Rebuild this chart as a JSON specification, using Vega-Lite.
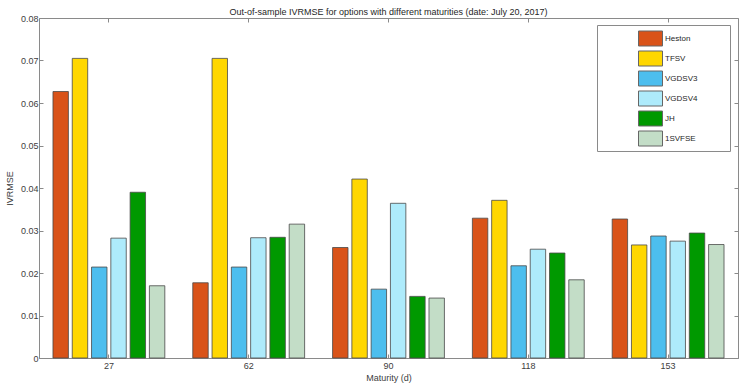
{
  "$schema": "https://vega.github.io/schema/vega-lite/v6.json",
  "width": 699,
  "height": 340,
  "autosize": "none",
  "padding": {"left": 39, "top": 18, "right": 1, "bottom": 25},
  "background": "white",
  "title": {"text": "Out-of-sample IVRMSE for options with different maturities (date: July 20, 2017)", "font": "Liberation Sans", "fontSize": 9, "fontWeight": "normal", "color": "#262626", "offset": -3},
  "config": {
    "view": {"stroke": "#8a8a8a", "strokeWidth": 1},
    "axis": {"labelFont": "Liberation Sans", "titleFont": "Liberation Sans", "labelFontSize": 9, "titleFontSize": 9, "titleFontWeight": "normal", "labelColor": "#404040", "titleColor": "#404040", "domainColor": "#8a8a8a", "tickColor": "#8a8a8a", "grid": false}
  },
  "data": {"values": [
    {"m": "27", "model": "Heston", "v": 0.0627},
    {"m": "27", "model": "TFSV", "v": 0.0705},
    {"m": "27", "model": "VGDSV3", "v": 0.0214},
    {"m": "27", "model": "VGDSV4", "v": 0.0282},
    {"m": "27", "model": "JH", "v": 0.0390},
    {"m": "27", "model": "1SVFSE", "v": 0.0170},
    {"m": "62", "model": "Heston", "v": 0.0177},
    {"m": "62", "model": "TFSV", "v": 0.0705},
    {"m": "62", "model": "VGDSV3", "v": 0.0214},
    {"m": "62", "model": "VGDSV4", "v": 0.0283},
    {"m": "62", "model": "JH", "v": 0.0284},
    {"m": "62", "model": "1SVFSE", "v": 0.0315},
    {"m": "90", "model": "Heston", "v": 0.0260},
    {"m": "90", "model": "TFSV", "v": 0.0421},
    {"m": "90", "model": "VGDSV3", "v": 0.0162},
    {"m": "90", "model": "VGDSV4", "v": 0.0364},
    {"m": "90", "model": "JH", "v": 0.0145},
    {"m": "90", "model": "1SVFSE", "v": 0.0141},
    {"m": "118", "model": "Heston", "v": 0.0329},
    {"m": "118", "model": "TFSV", "v": 0.0371},
    {"m": "118", "model": "VGDSV3", "v": 0.0217},
    {"m": "118", "model": "VGDSV4", "v": 0.0256},
    {"m": "118", "model": "JH", "v": 0.0247},
    {"m": "118", "model": "1SVFSE", "v": 0.0184},
    {"m": "153", "model": "Heston", "v": 0.0327},
    {"m": "153", "model": "TFSV", "v": 0.0266},
    {"m": "153", "model": "VGDSV3", "v": 0.0287},
    {"m": "153", "model": "VGDSV4", "v": 0.0275},
    {"m": "153", "model": "JH", "v": 0.0294},
    {"m": "153", "model": "1SVFSE", "v": 0.0267}
  ]},
  "resolve": {"axis": {"x": "independent", "y": "independent"}},
  "layer": [
    {
      "mark": {"type": "bar", "stroke": "#4a4a4a", "strokeWidth": 1, "strokeOpacity": 0.8},
      "encoding": {
        "x": {"field": "m", "type": "nominal", "sort": ["27", "62", "90", "118", "153"], "scale": {"paddingInner": 0.2, "paddingOuter": 0.1},
              "axis": {"title": "Maturity (d)", "labelAngle": 0, "tickSize": -4, "labelPadding": 7, "titlePadding": 3}},
        "xOffset": {"field": "model", "type": "nominal", "sort": ["Heston", "TFSV", "VGDSV3", "VGDSV4", "JH", "1SVFSE"], "scale": {"paddingInner": 0.2}},
        "y": {"field": "v", "type": "quantitative", "scale": {"domain": [0, 0.08], "nice": false},
              "axis": {"title": "IVRMSE", "values": [0, 0.01, 0.02, 0.03, 0.04, 0.05, 0.06, 0.07, 0.08], "format": "~g", "tickSize": -4, "labelPadding": 5, "titlePadding": 6}},
        "color": {"field": "model", "type": "nominal", "sort": ["Heston", "TFSV", "VGDSV3", "VGDSV4", "JH", "1SVFSE"],
          "scale": {"domain": ["Heston", "TFSV", "VGDSV3", "VGDSV4", "JH", "1SVFSE"], "range": ["#D95319", "#FFD700", "#4DBEEE", "#AEEBFB", "#009900", "#C3DDC7"]},
          "legend": {"title": null, "orient": "none", "legendX": 558, "legendY": 7, "fillColor": "white", "strokeColor": "#8a8a8a", "padding": 3,
            "symbolType": "M-1.2,-0.75L1.2,-0.75L1.2,0.75L-1.2,0.75Z", "symbolSize": 400, "symbolStrokeColor": "#666", "symbolStrokeWidth": 1, "symbolOffset": 40,
            "labelFont": "Liberation Sans", "labelFontSize": 8, "labelColor": "#262626", "labelOffset": 4, "rowPadding": 0,
            "labelExpr": "datum.label + (datum.label == 'Heston' ? '\u2800\u2800\u2800\u2800\u2800\u2800' : '')"}}
      }
    },
    {
      "mark": {"type": "tick", "opacity": 0},
      "encoding": {
        "x": {"field": "m", "type": "nominal", "sort": ["27", "62", "90", "118", "153"], "axis": {"orient": "top", "labels": false, "title": null, "tickSize": -4, "domain": false}},
        "y": {"field": "v", "type": "quantitative", "axis": {"orient": "right", "labels": false, "title": null, "values": [0, 0.01, 0.02, 0.03, 0.04, 0.05, 0.06, 0.07, 0.08], "tickSize": -4, "domain": false}}
      }
    }
  ]
}
